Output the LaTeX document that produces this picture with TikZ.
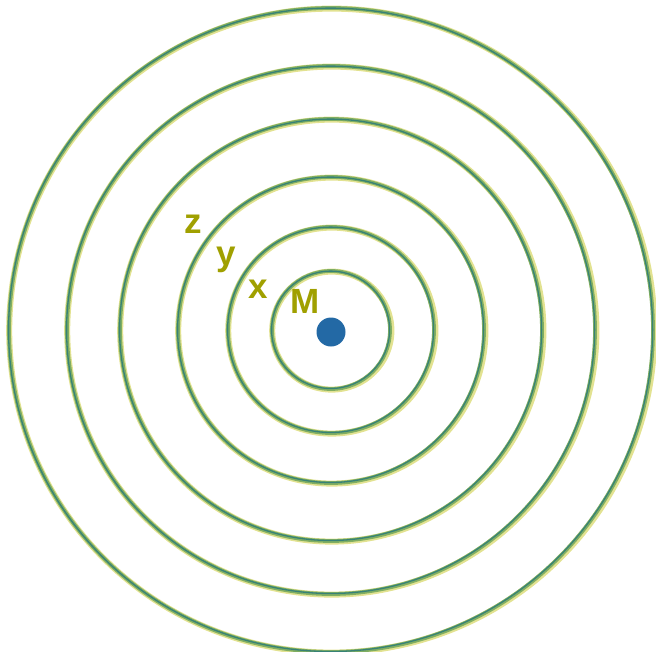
\documentclass[tikz,border=0pt]{standalone}
\usepackage{fontspec}
\setmainfont{Liberation Sans}
\usepackage{xcolor}
\usepackage{tikz}
\definecolor{pencilteal}{RGB}{55,130,118}
\definecolor{pencilgreen}{RGB}{128,174,98}
\definecolor{pencilyellow}{RGB}{226,226,145}
\definecolor{labelolive}{RGB}{160,160,0}
\definecolor{dotblue}{RGB}{35,105,165}

\begin{document}
\begin{tikzpicture}[x=1pt,y=-1pt,
  ring/.style={line width=#1},
  lab/.style={text=labelolive,font=\fontsize{35}{40}\selectfont\bfseries,inner sep=0pt,anchor=base}]
\useasboundingbox (0,0) rectangle (656,651);
% rings, pencil look: yellow halo, green body, teal core
\foreach \r in {59,103,153,211,264,322}{
  \draw[ring=6pt,pencilyellow] (331.8,330.6) ellipse ({\r pt+0.6pt} and {\r pt});
  \draw[ring=3.8pt,pencilgreen] (331,330) circle (\r pt);
  \draw[ring=1.3pt,pencilteal] (330.6,329.8) ellipse ({\r pt} and {\r pt-0.3pt});
}
% centre mass
\node[circle,fill=dotblue,minimum size=29pt,inner sep=0pt] (core) at (331,332) {};
% labels
\node[lab] (labM) at (305,313) {M};
\node[lab] (labx) at (258,298) {x};
\node[lab] (laby) at (226.5,265) {y};
\node[lab] (labz) at (193.5,233) {z};
\end{tikzpicture}
\end{document}
